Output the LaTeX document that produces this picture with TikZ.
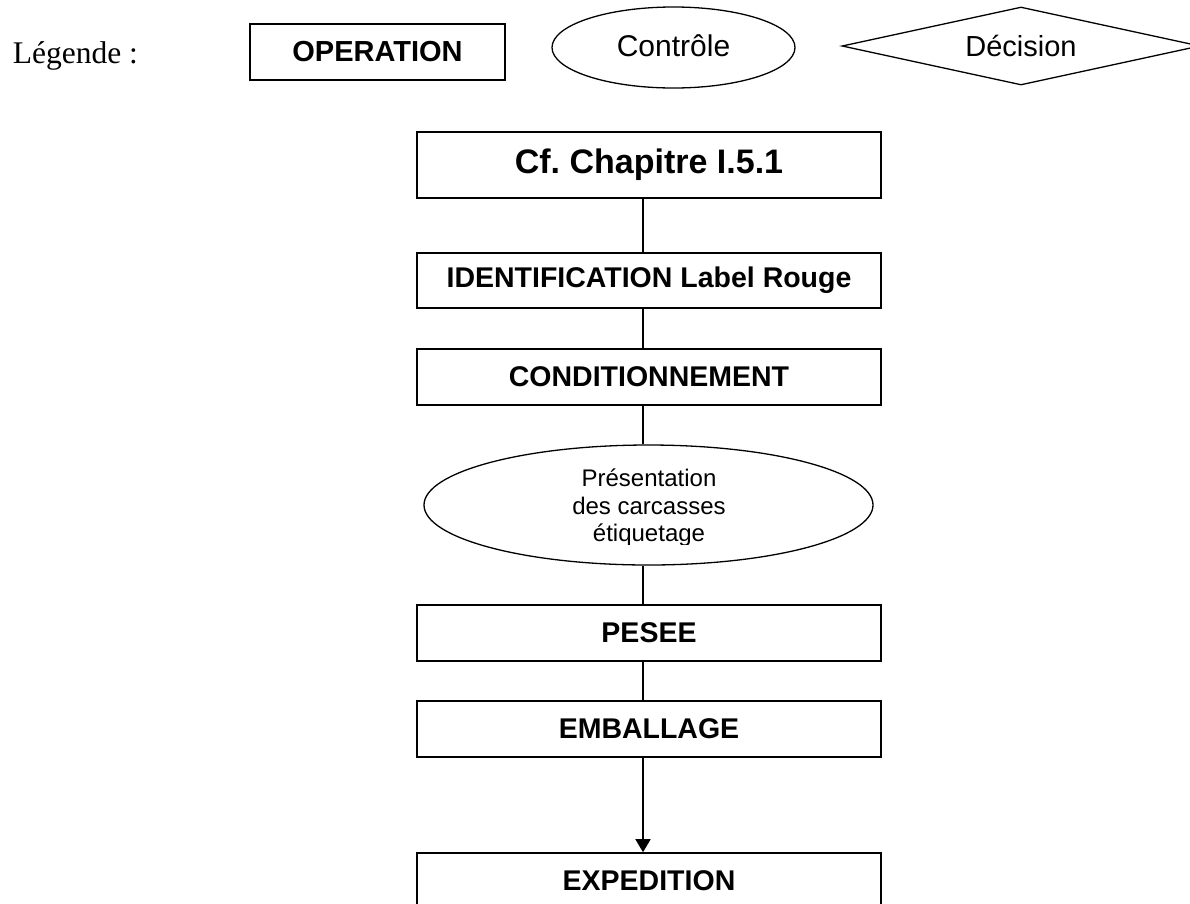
\documentclass[tikz,border=0pt]{standalone}
\usepackage{fontspec}
\setmainfont{Liberation Sans}
\newfontfamily\seriffam{Liberation Serif}
\usetikzlibrary{shapes.geometric,arrows.meta}
\begin{document}
\frenchspacing
\begin{tikzpicture}[x=1pt,y=-1pt,line width=1.6pt,
  opbox/.style={draw,rectangle,inner sep=0pt,minimum width=464pt,minimum height=56pt,
    font=\fontsize{28.5}{34}\selectfont\bfseries},
  ctlshape/.style={draw,ellipse,inner sep=0pt,line width=1.3pt},
  conn/.style={line width=1.6pt},
  arr/.style={line width=1.6pt,-{Triangle[length=13pt,width=15pt]}}]
\useasboundingbox (0,0) rectangle (1190,903);
\clip (0,0) rectangle (1190,903);
% legend
\node[anchor=base west,inner sep=0pt,font=\seriffam\fontsize{31.5}{38}\selectfont] (leg) at (12,63) {Légende :};
\node[draw,rectangle,inner sep=0pt,minimum width=255pt,minimum height=56pt,
  font=\fontsize{29}{34}\selectfont\bfseries] (lop) at (377.5,52) {OPERATION};
\node[ctlshape,minimum width=243pt,minimum height=81pt,
  font=\fontsize{30}{36}\selectfont] (lctl) at (673.5,47.5) {\raisebox{3pt}{Contrôle}};
\node[draw,diamond,inner sep=0pt,aspect=4.6,minimum width=358pt,minimum height=78pt,line width=1.3pt,
  font=\fontsize{29}{35}\selectfont] (ldec) at (1021,46) {Décision};
% main column
\coordinate (axis) at (643,0);
\node[opbox,minimum height=66pt,font=\fontsize{34}{40}\selectfont\bfseries] (cf) at (649,165) {Cf. Chapitre I.5.1};
\node[opbox,minimum height=55pt] (ident) at (649,280.5) {IDENTIFICATION Label Rouge};
\node[opbox] (cond) at (649,377) {CONDITIONNEMENT};
\node[ctlshape,minimum width=449pt,minimum height=120pt] (pres) at (648.5,505) {};
\begin{scope}
  \clip (420,440) rectangle (880,544);
  \node[align=center,inner sep=0pt,font=\fontsize{24}{27.5}\selectfont] (prestext) at (649,508)
    {Présentation\\des carcasses\\étiquetage};
\end{scope}
\node[opbox] (pes) at (649,633) {PESEE};
\node[opbox] (emb) at (649,729) {EMBALLAGE};
\node[opbox] (exp) at (649,881) {EXPEDITION};
% connectors
\draw[conn] (cf.south -| axis) -- (ident.north -| axis);
\draw[conn] (ident.south -| axis) -- (cond.north -| axis);
\draw[conn] (cond.south -| axis) -- (pres.north -| axis);
\draw[conn] (pres.south -| axis) -- (pes.north -| axis);
\draw[conn] (pes.south -| axis) -- (emb.north -| axis);
\draw[arr] (emb.south -| axis) -- (exp.north -| axis);
\end{tikzpicture}
\end{document}
